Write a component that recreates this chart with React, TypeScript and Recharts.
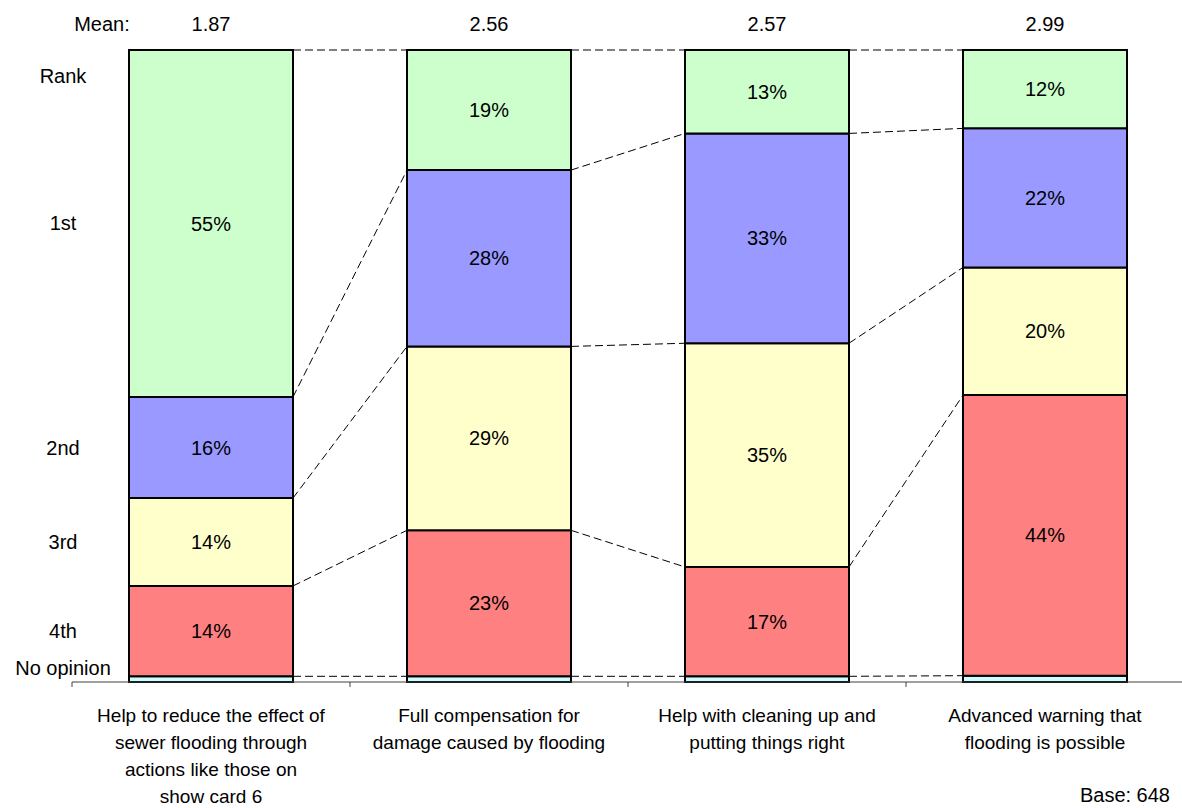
import { Bar, BarChart, LabelList, ReferenceLine, XAxis, YAxis } from 'recharts'

const categories = [
  'Help to reduce the effect of\nsewer flooding through\nactions like those on\nshow card 6',
  'Full compensation for\ndamage caused by flooding',
  'Help with cleaning up and\nputting things right',
  'Advanced warning that\nflooding is possible',
]
const noOpinion = [0.9, 0.9, 0.9, 1.0]
const fourth = [14.3, 23.1, 17.3, 44.4]
const third = [13.9, 29.1, 35.4, 20.2]
const second = [16.0, 27.9, 33.2, 22.0]
const first = [54.9, 19.0, 13.2, 12.4]
const means = [1.87, 2.56, 2.57, 2.99]

const rankLabels = ['No opinion', '4th', '3rd', '2nd', '1st']

const FONT = '"Liberation Sans", Arial, sans-serif'
const BAR = 164

const series = [
  { key: 'noOpinion', values: noOpinion, color: '#CCFFFF', label: false },
  { key: 'fourth', values: fourth, color: '#FF8080', label: true },
  { key: 'third', values: third, color: '#FFFFCC', label: true },
  { key: 'second', values: second, color: '#9999FF', label: true },
  { key: 'first', values: first, color: '#CCFFCC', label: true },
]

const data = categories.map((name, i) => {
  const row: Record<string, string | number> = { name, mean: means[i] }
  series.forEach((s) => (row[s.key] = s.values[i]))
  return row
})

// cumulative tops of every segment, per bar
const tops = series.map((_, si) =>
  categories.map((_, ci) => series.slice(0, si + 1).reduce((a, s) => a + s.values[ci], 0)),
)

// y positions of the rank labels: middle of each segment of the first bar
const rankTicks: number[] = []
{
  let cum = 0
  series.forEach((s) => {
    rankTicks.push(cum + s.values[0] / 2)
    cum += s.values[0]
  })
}

const RankTick = (props: any) => {
  const { x, y, payload } = props
  const idx = rankTicks.findIndex((t) => Math.abs(t - payload.value) < 0.001)
  const label = rankLabels[idx] ?? ''
  return (
    <text
      x={x - 9}
      y={y + (idx === 0 ? -11 : 0)}
      textAnchor="middle"
      dominantBaseline="central"
      fontSize={20}
      fontFamily={FONT}
      fill="#000"
    >
      {label}
    </text>
  )
}

const CategoryTick = (props: any) => {
  const { x, y, payload } = props
  const half = payload.offset ?? 139
  const lines = String(payload.value).split('\n')
  return (
    <g>
      <line x1={x - half} x2={x - half} y1={y} y2={y + 5} stroke="#404040" strokeWidth={1} />
      <text x={x} y={y + 40} textAnchor="middle" fontSize={19} fontFamily={FONT} fill="#000">
        {lines.map((l, i) => (
          <tspan key={i} x={x} dy={i === 0 ? 0 : 27}>
            {l}
          </tspan>
        ))}
      </text>
    </g>
  )
}

const MeanLabel = (props: any) => {
  const { x, y, width, value } = props
  return (
    <text
      x={x + width / 2}
      y={y - 26}
      textAnchor="middle"
      dominantBaseline="central"
      fontSize={20}
      fontFamily={FONT}
      fill="#000"
    >
      {Number(value).toFixed(2)}
    </text>
  )
}

const DashedConnector = (props: any) => {
  const { x1, y1, x2, y2 } = props
  return (
    <line
      x1={x1 + BAR / 2}
      y1={y1}
      x2={x2 - BAR / 2}
      y2={y2}
      stroke="#000"
      strokeWidth={1}
      strokeDasharray="8 4"
    />
  )
}

export default function App() {
  return (
    <div
      style={{
        position: 'absolute',
        left: 0,
        top: 0,
        width: 1182,
        height: 808,
        overflow: 'hidden',
        background: '#fff',
        fontFamily: FONT,
      }}
    >
      <BarChart
        width={1184}
        height={808}
        data={data}
        margin={{ top: 50, right: 0, bottom: 0, left: 0 }}
      >
        <XAxis
          dataKey="name"
          height={126}
          interval={0}
          tickLine={false}
          tickSize={0}
          tickMargin={0}
          axisLine={{ stroke: '#404040', strokeWidth: 1 }}
          tick={<CategoryTick />}
        />
        <YAxis
          type="number"
          domain={[0, 100]}
          width={72}
          ticks={rankTicks}
          interval={0}
          axisLine={false}
          tickLine={false}
          tickSize={0}
          tickMargin={0}
          tick={<RankTick />}
        />
        {series.map((s) => (
          <Bar
            key={s.key}
            dataKey={s.key}
            stackId="a"
            fill={s.color}
            stroke="#000"
            strokeWidth={2}
            barSize={BAR}
            isAnimationActive={false}
          >
            {s.label && (
              <LabelList
                dataKey={s.key}
                position="center"
                formatter={(v: any) => `${Math.round(Number(v))}%`}
                fontSize={20}
                fontFamily={FONT}
                fill="#000"
              />
            )}
            {s.key === 'first' && <LabelList dataKey="mean" content={<MeanLabel />} />}
          </Bar>
        ))}
        {tops.map((row, si) =>
          row.slice(0, -1).map((v, ci) => (
            <ReferenceLine
              key={`${si}-${ci}`}
              segment={[
                { x: categories[ci], y: v },
                { x: categories[ci + 1], y: row[ci + 1] },
              ]}
              ifOverflow="visible"
              shape={<DashedConnector />}
            />
          )),
        )}
      </BarChart>
      <div style={{ position: 'absolute', left: 72, top: 12, width: 60, textAlign: 'center', fontSize: 20, lineHeight: '24px' }}>
        Mean:
      </div>
      <div style={{ position: 'absolute', left: 23, top: 64, width: 80, textAlign: 'center', fontSize: 20, lineHeight: '24px' }}>
        Rank
      </div>
      <div style={{ position: 'absolute', right: 12, top: 783, fontSize: 20, lineHeight: '24px' }}>
        Base: 648
      </div>
    </div>
  )
}
